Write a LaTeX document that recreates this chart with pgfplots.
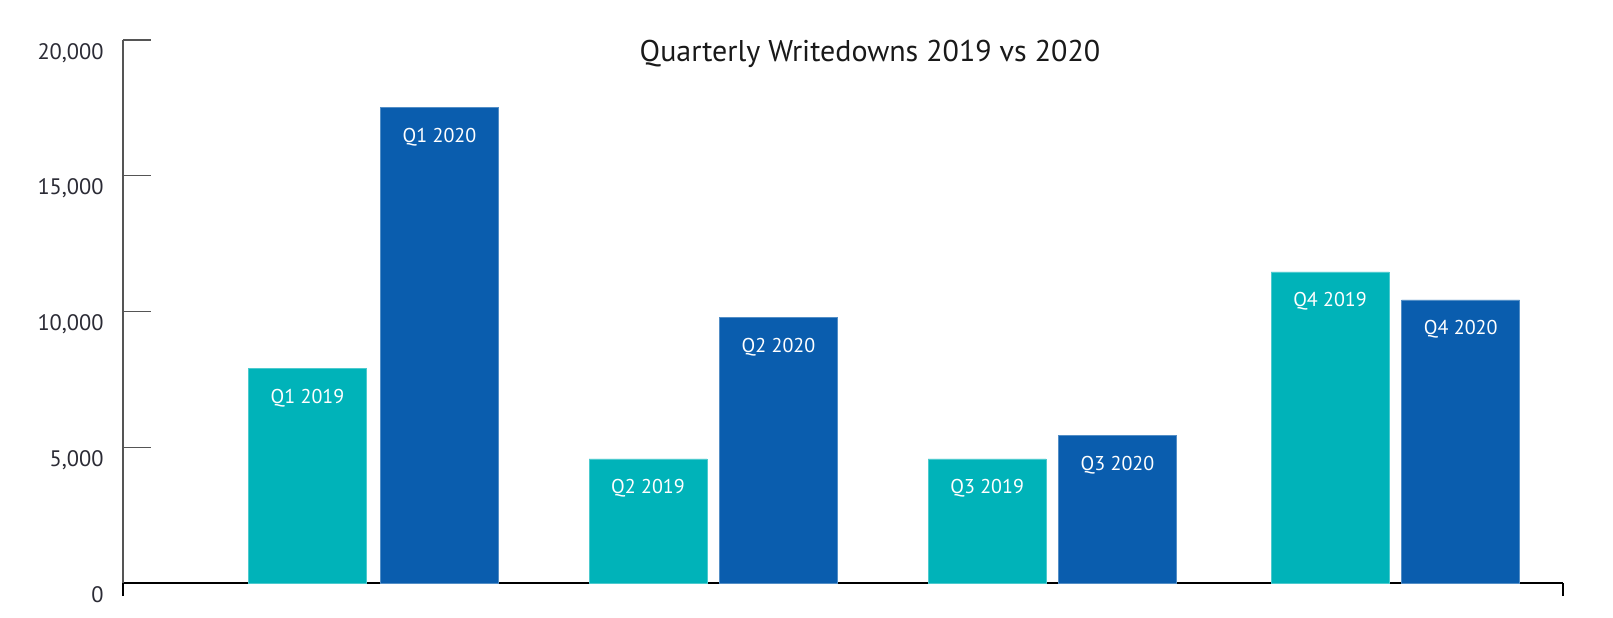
\documentclass[border=0pt]{standalone}
\usepackage{fontspec}
\setmainfont{PT Sans}
\usepackage{pgfplots}
\pgfplotsset{compat=1.18}
\definecolor{teal19}{HTML}{00B3B9}
\definecolor{blue20}{HTML}{0A5DAE}
\definecolor{ticktext}{HTML}{2B2B35}
\definecolor{yline}{HTML}{555555}
\begin{document}
\begin{tikzpicture}
\useasboundingbox (-61.5pt,-17pt) rectangle (745pt,291.5pt);
\begin{axis}[
  scale only axis,
  width=720pt, height=271.5pt,
  xmin=123, xmax=1563, ymin=0, ymax=20000,
  axis lines=left,
  axis line style={-},
  x axis line style={draw=black, line width=0.8pt},
  y axis line style={draw=yline, line width=0.6pt},
  tick align=inside,
  xtick={123,1563}, xticklabels={},
  xtick style={draw=black, line width=0.8pt, /pgfplots/major tick length=6.5pt},
  ytick={0,5000,10000,15000,20000},
  ytick style={draw=yline, line width=0.6pt, /pgfplots/major tick length=14pt},
  scaled y ticks=false,
  yticklabel={\pgfmathprintnumber[fixed, precision=0, 1000 sep={,}, assume math mode=true]{\tick}},
  yticklabel style={font=\fontsize{11.2pt}{13pt}\selectfont, text=ticktext, anchor=base east, inner sep=0pt, xshift=-9.5pt, yshift=-9.5pt},
  ybar, bar width=118,
  point meta=explicit symbolic,
  nodes near coords,
  every node near coord/.append style={font=\fontsize{10pt}{12pt}\selectfont, text=white, anchor=base, inner sep=0pt, yshift=-17.25pt},
  clip=false,
]
\addplot[fill=teal19, draw=teal19!70!white, line width=0.3pt, bar shift=0pt] coordinates {
  (307.5,7900) [Q1 2019]
  (648,4570) [Q2 2019]
  (987.2,4570) [Q3 2019]
  (1330,11455) [Q4 2019]
};
\addplot[fill=blue20, draw=blue20!70!white, line width=0.3pt, bar shift=0pt] coordinates {
  (439.5,17505) [Q1 2020]
  (778.5,9770) [Q2 2020]
  (1117.5,5425) [Q3 2020]
  (1460.7,10425) [Q4 2020]
};
\node[anchor=base, inner sep=0pt, font=\fontsize{15pt}{18pt}\selectfont, text=black!90] at (axis cs:870,19200) {Quarterly Writedowns 2019 vs 2020};
\end{axis}
\end{tikzpicture}
\end{document}
